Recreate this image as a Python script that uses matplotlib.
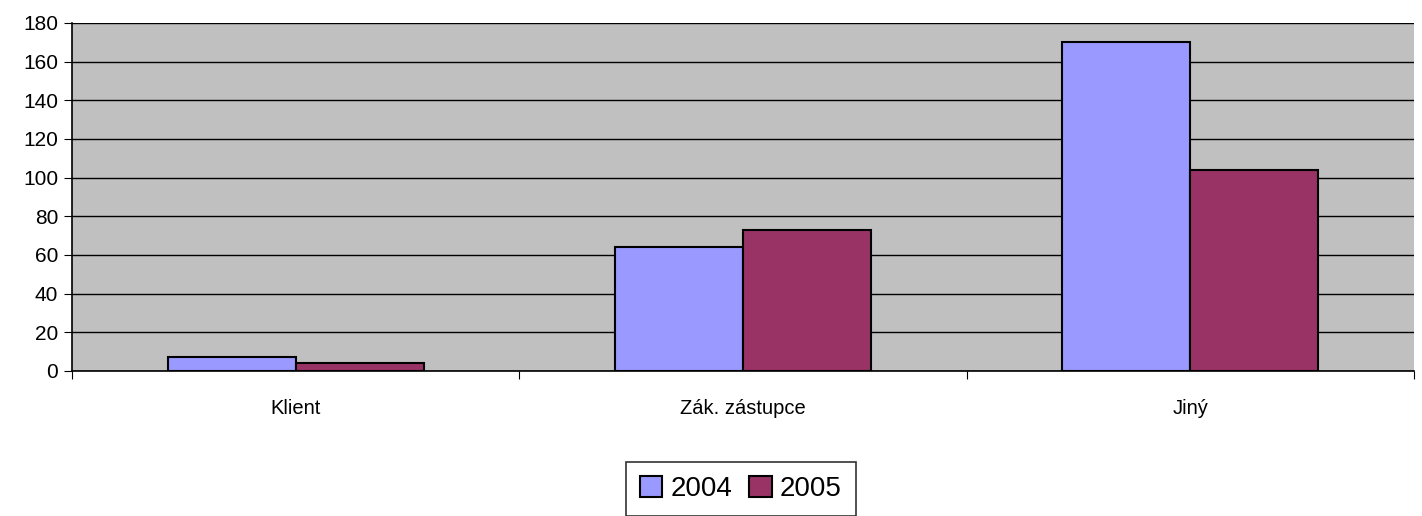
import matplotlib.pyplot as plt
import numpy as np

plt.rcParams['font.family'] = ['Liberation Sans', 'DejaVu Sans']

categories = ['Klient', 'Zák. zástupce', 'Jiný']
years = ['2004', '2005']
vals_2004 = [7, 64, 170]
vals_2005 = [4, 73, 104]
y_ticks = [0, 20, 40, 60, 80, 100, 120, 140, 160, 180]

colors = ['#9999FF', '#993366']

fig = plt.figure(figsize=(14.22, 5.16), dpi=100)
ax = fig.add_axes([72 / 1422, 1 - 371 / 516, (1414 - 72) / 1422, (371 - 23) / 516])
ax.set_facecolor('#C0C0C0')

x = np.arange(len(categories)) + 0.5
w = 0.286
ax.bar(x - w / 2, vals_2004, w, color=colors[0], edgecolor='black', linewidth=1.5, label=years[0], zorder=3)
ax.bar(x + w / 2, vals_2005, w, color=colors[1], edgecolor='black', linewidth=1.5, label=years[1], zorder=3)

ax.set_xlim(0, 3)
ax.set_ylim(0, 180)
ax.set_yticks(y_ticks)
ax.yaxis.grid(True, color='black', linewidth=1, zorder=0)
ax.set_axisbelow(True)

# category boundaries as ticks, labels in the middle
ax.set_xticks([0, 1, 2, 3])
ax.set_xticklabels([])
ax.set_xticks(x, minor=True)
ax.set_xticklabels(categories, minor=True, fontsize=14.5)
ax.tick_params(axis='x', which='minor', length=0, pad=20)
ax.tick_params(axis='x', which='major', length=6, direction='out', color='black')
ax.tick_params(axis='y', length=6, direction='out', labelsize=15, pad=4)

for s in ['top', 'right']:
    ax.spines[s].set_visible(False)
for s in ['left', 'bottom']:
    ax.spines[s].set_color('black')
    ax.spines[s].set_linewidth(1.2)

leg = fig.legend(loc='upper center', bbox_to_anchor=(741 / 1422, 1 - 462 / 516), ncol=2,
                 fontsize=20, frameon=True, fancybox=False, edgecolor='black',
                 handlelength=0.8, handleheight=0.8, handletextpad=0.3, columnspacing=0.6,
                 borderpad=0.5, borderaxespad=0)
leg.get_frame().set_linewidth(1.2)

fig.savefig('out.png', dpi=100)
